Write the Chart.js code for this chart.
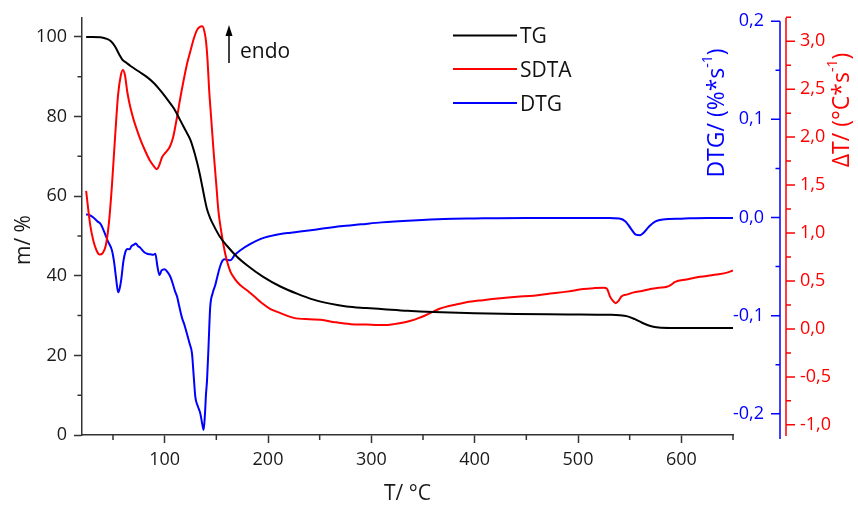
<!DOCTYPE html>
<html>
<head>
    <title>TG / SDTA / DTG</title>
    <script src="https://cdn.jsdelivr.net/npm/chart.js"></script>
    <style>
        body { margin: 0; background: #fff; }
        #wrap { width: 858px; height: 508px; }
    </style>
</head>
<body>
    <div id="wrap">
        <canvas id="thermo-chart" width="858" height="508"></canvas>
    </div>

    <script>
        // TG curve: temperature (°C) and mass (%)
        const tgTemp = [24, 30, 38, 44, 48, 52, 56, 59, 63, 67, 75, 83, 90, 96, 102, 109, 115, 120, 125, 129, 131.5, 134, 136.5, 139, 141, 144, 147.5, 153, 160, 170, 180, 195, 212, 228, 244, 260, 276, 295, 312, 335, 360, 400, 440, 490, 530, 540, 548, 555, 562, 570, 578, 590, 620, 650];
        const tgMass = [100, 100, 99.9, 99.5, 98.9, 97.6, 95.6, 94.3, 93.5, 92.7, 91.3, 89.9, 88.3, 86.5, 84.5, 82, 79.1, 76.6, 74.1, 70.8, 68.3, 65.5, 62.3, 59, 56.7, 54.5, 52.6, 50, 47.6, 44.8, 42.6, 39.8, 37.3, 35.5, 34, 33, 32.3, 31.9, 31.6, 31.2, 30.9, 30.6, 30.4, 30.3, 30.2, 30.1, 29.8, 29.1, 28.2, 27.4, 27.0, 26.9, 26.9, 26.9];

        // SDTA curve: temperature (°C) and ΔT (°C*s^-1)
        const sdtaTemp = [24, 26, 28, 31, 34, 37, 40, 43, 46, 49, 52, 55, 57.5, 59.5, 61.5, 64, 67, 70, 73, 77, 81, 86, 90, 92.5, 94.5, 97.5, 101, 105, 108, 112, 115, 118.5, 122, 125, 128, 131, 134, 136.5, 138.5, 140, 141.5, 143, 145, 147.5, 150, 152, 155, 157, 160, 163.5, 168, 173, 180, 186, 194, 202, 212, 225, 240, 251, 265, 280, 295, 312, 322, 330, 338, 345, 352, 360, 366, 372, 382, 392, 408, 425, 441, 457, 473, 489, 505, 515, 525, 528, 531, 534, 536.5, 539, 542, 548, 554, 562, 570, 578, 586, 590, 594, 605, 618, 634, 645, 650];
        const sdtaVal = [1.44, 1.25, 1.08, 0.92, 0.82, 0.775, 0.79, 0.87, 1.1, 1.5, 2.0, 2.45, 2.64, 2.70, 2.65, 2.46, 2.3, 2.18, 2.08, 1.96, 1.86, 1.75, 1.69, 1.665, 1.7, 1.79, 1.84, 1.9, 1.99, 2.21, 2.4, 2.6, 2.78, 2.9, 3.02, 3.11, 3.15, 3.155, 3.1, 3.0, 2.8, 2.5, 2.2, 1.83, 1.5, 1.23, 1.0, 0.87, 0.72, 0.6, 0.52, 0.458, 0.4, 0.345, 0.27, 0.21, 0.165, 0.115, 0.1, 0.095, 0.07, 0.05, 0.045, 0.04, 0.05, 0.065, 0.085, 0.11, 0.14, 0.18, 0.21, 0.23, 0.255, 0.278, 0.3, 0.32, 0.335, 0.347, 0.37, 0.389, 0.416, 0.425, 0.43, 0.42, 0.337, 0.29, 0.268, 0.29, 0.337, 0.36, 0.381, 0.395, 0.416, 0.43, 0.44, 0.46, 0.49, 0.515, 0.543, 0.567, 0.59, 0.61];

        // DTG curve: temperature (°C) and DTG (%*s^-1)
        const dtgTemp = [24, 28, 31, 35, 38, 42, 45, 49, 51, 53, 55, 56.5, 58, 60, 62, 64, 66, 68, 70, 72, 74, 76.5, 79, 81, 83, 86, 89, 91, 93, 95, 97, 100, 103, 105.5, 108, 110, 112, 114, 116.8, 119, 121.7, 124, 126.5, 128, 129.7, 132, 134.5, 136.3, 137.7, 139, 140, 141, 142.5, 144, 146.5, 149, 151.5, 154, 156, 157.7, 160.5, 163.5, 168, 173, 183, 193, 202, 212, 222, 231, 250, 270, 290, 310, 340, 370, 400, 450, 500, 530, 540, 546, 551, 556, 560, 564, 569, 575, 582, 600, 625, 650];
        const dtgVal = [0.0033, 0.002, 0.0, -0.004, -0.0067, -0.016, -0.024, -0.0336, -0.045, -0.062, -0.0762, -0.072, -0.063, -0.045, -0.035, -0.032, -0.0325, -0.029, -0.028, -0.0265, -0.029, -0.031, -0.034, -0.036, -0.037, -0.0375, -0.038, -0.037, -0.05, -0.0587, -0.054, -0.0527, -0.056, -0.0604, -0.068, -0.075, -0.0806, -0.09, -0.1024, -0.109, -0.119, -0.128, -0.139, -0.16, -0.183, -0.192, -0.1997, -0.21, -0.2165, -0.2, -0.18, -0.166, -0.13, -0.0923, -0.077, -0.0688, -0.058, -0.0487, -0.044, -0.0426, -0.0432, -0.0436, -0.038, -0.0336, -0.027, -0.0218, -0.019, -0.0168, -0.0155, -0.0144, -0.0118, -0.009, -0.007, -0.005, -0.003, -0.0015, -0.001, -0.0005, -0.0005, -0.0005, -0.001, -0.004, -0.011, -0.0175, -0.018, -0.015, -0.009, -0.004, -0.002, -0.0012, -0.0005, -0.0005];

        // ticks
        const tMajor = [100, 200, 300, 400, 500, 600];
        const tMinor = [50, 150, 250, 350, 450, 550, 650];
        const mMajor = [0, 20, 40, 60, 80, 100];
        const mMinor = [10, 30, 50, 70, 90];
        const dtgMajor = [0.2, 0.1, 0.0, -0.1, -0.2];
        const dtgMinor = [0.15, 0.05, -0.05, -0.15];
        const sdtaMajor = [3.0, 2.5, 2.0, 1.5, 1.0, 0.5, 0.0, -0.5, -1.0];
        const sdtaMinor = [3.25, 2.75, 2.25, 1.75, 1.25, 0.75, 0.25, -0.25, -0.75];

        const seriesNames = ['TG', 'SDTA', 'DTG'];
        const seriesColors = ['#000000', '#ff0000', '#0000ff'];

        const FONT = "'Open Sans', sans-serif";
        const AXIS = '#333333';

        function toPoints(xs, ys) {
            return xs.map((v, i) => ({ x: v, y: ys[i] }));
        }

        function comma(v, d) {
            return v.toFixed(d).replace('.', ',');
        }

        // rotated title with a "-1" superscript
        function drawRotTitle(ctx, cx, cy, pre, sup, post, color, size) {
            const big = size + 'px ' + FONT;
            const small = Math.round(size * 0.62) + 'px ' + FONT;
            ctx.save();
            ctx.translate(cx, cy);
            ctx.rotate(-Math.PI / 2);
            ctx.fillStyle = color;
            ctx.textBaseline = 'middle';
            ctx.textAlign = 'left';
            ctx.font = big;
            const w1 = ctx.measureText(pre).width;
            const w3 = ctx.measureText(post).width;
            ctx.font = small;
            const w2 = ctx.measureText(sup).width;
            let x0 = -(w1 + w2 + w3) / 2;
            ctx.font = big;
            ctx.fillText(pre, x0, 0);
            ctx.font = small;
            ctx.fillText(sup, x0 + w1, -size * 0.4);
            ctx.font = big;
            ctx.fillText(post, x0 + w1 + w2, 0);
            ctx.restore();
        }

        const extras = {
            id: 'extras',
            afterDraw(chart) {
                const ctx = chart.ctx;
                const { x, y, y2, y3 } = chart.scales;
                const area = chart.chartArea;
                ctx.save();
                ctx.lineCap = 'butt';

                // minor ticks, left and bottom
                ctx.strokeStyle = AXIS;
                ctx.lineWidth = 1.5;
                ctx.beginPath();
                mMinor.forEach(v => {
                    const py = y.getPixelForValue(v);
                    ctx.moveTo(area.left - 4.5, py);
                    ctx.lineTo(area.left, py);
                });
                tMinor.forEach(v => {
                    const px = x.getPixelForValue(v);
                    ctx.moveTo(px, area.bottom);
                    ctx.lineTo(px, area.bottom + 5);
                });
                ctx.stroke();

                // left title
                drawRotTitle(ctx, 24, 240, 'm/ %', '', '', '#1a1a1a', 21);

                // DTG axis (blue)
                const bx = area.right + 47;
                ctx.strokeStyle = seriesColors[2];
                ctx.lineWidth = 1.5;
                ctx.beginPath();
                ctx.moveTo(bx, y2.getPixelForValue(0.2));
                ctx.lineTo(bx, area.bottom + 4);
                dtgMajor.forEach(v => {
                    const py = y2.getPixelForValue(v);
                    ctx.moveTo(bx, py);
                    ctx.lineTo(bx - 9, py);
                });
                dtgMinor.forEach(v => {
                    const py = y2.getPixelForValue(v);
                    ctx.moveTo(bx, py);
                    ctx.lineTo(bx - 4.5, py);
                });
                ctx.stroke();
                ctx.fillStyle = seriesColors[2];
                ctx.font = '18px ' + FONT;
                ctx.textAlign = 'right';
                ctx.textBaseline = 'middle';
                dtgMajor.forEach(v => {
                    ctx.fillText(comma(v, 1), bx - 16, y2.getPixelForValue(v));
                });
                drawRotTitle(ctx, bx - 63, 113, 'DTG/ (%*s', '-1', ')', seriesColors[2], 23);

                // SDTA axis (red)
                const rx = area.right + 53;
                ctx.strokeStyle = seriesColors[1];
                ctx.beginPath();
                ctx.moveTo(rx, area.top);
                ctx.lineTo(rx, area.bottom + 1);
                sdtaMajor.forEach(v => {
                    const py = y3.getPixelForValue(v);
                    ctx.moveTo(rx, py);
                    ctx.lineTo(rx + 9, py);
                });
                sdtaMinor.forEach(v => {
                    const py = y3.getPixelForValue(v);
                    ctx.moveTo(rx, py);
                    ctx.lineTo(rx + 5, py);
                });
                ctx.stroke();
                ctx.fillStyle = seriesColors[1];
                ctx.textAlign = 'left';
                sdtaMajor.forEach(v => {
                    ctx.fillText(comma(v, 1), rx + 14, y3.getPixelForValue(v));
                });
                drawRotTitle(ctx, rx + 56, 110, 'ΔT/ (°C*s', '-1', ')', seriesColors[1], 23);

                // legend inside the plot
                const legY = [35.5, 69, 103];
                ctx.font = '21px ' + FONT;
                ctx.textBaseline = 'alphabetic';
                ctx.textAlign = 'left';
                seriesNames.forEach((name, i) => {
                    ctx.strokeStyle = seriesColors[i];
                    ctx.lineWidth = 2;
                    ctx.beginPath();
                    ctx.moveTo(453, legY[i]);
                    ctx.lineTo(517, legY[i]);
                    ctx.stroke();
                    ctx.fillStyle = '#111';
                    ctx.fillText(name, 520, legY[i] + 7.5);
                });

                // endo arrow
                ctx.strokeStyle = '#000';
                ctx.fillStyle = '#000';
                ctx.lineWidth = 1.5;
                ctx.beginPath();
                ctx.moveTo(229, 63);
                ctx.lineTo(229, 33);
                ctx.stroke();
                ctx.beginPath();
                ctx.moveTo(229, 25);
                ctx.lineTo(225.5, 36);
                ctx.lineTo(232.5, 36);
                ctx.closePath();
                ctx.fill();
                ctx.fillStyle = '#111';
                ctx.fillText('endo', 240, 57.5);

                ctx.restore();
            }
        };

        const ctx = document.getElementById('thermo-chart').getContext('2d');
        const thermoChart = new Chart(ctx, {
            type: 'line',
            data: {
                datasets: [
                    {
                        label: seriesNames[0],
                        data: toPoints(tgTemp, tgMass),
                        borderColor: seriesColors[0],
                        borderWidth: 2,
                        pointRadius: 0,
                        cubicInterpolationMode: 'monotone',
                        yAxisID: 'y'
                    },
                    {
                        label: seriesNames[1],
                        data: toPoints(sdtaTemp, sdtaVal),
                        borderColor: seriesColors[1],
                        borderWidth: 2,
                        pointRadius: 0,
                        cubicInterpolationMode: 'monotone',
                        yAxisID: 'y3'
                    },
                    {
                        label: seriesNames[2],
                        data: toPoints(dtgTemp, dtgVal),
                        borderColor: seriesColors[2],
                        borderWidth: 2,
                        pointRadius: 0,
                        cubicInterpolationMode: 'monotone',
                        yAxisID: 'y2'
                    }
                ]
            },
            options: {
                responsive: false,
                animation: false,
                events: [],
                layout: { padding: { top: 13, right: 125, bottom: 0, left: 0 } },
                plugins: {
                    legend: { display: false },
                    tooltip: { enabled: false }
                },
                scales: {
                    x: {
                        type: 'linear',
                        min: 20,
                        max: 650,
                        afterBuildTicks: s => { s.ticks = tMajor.map(v => ({ value: v })); },
                        afterFit: s => { s.height = 73; },
                        border: { color: AXIS, width: 1.5 },
                        grid: { drawOnChartArea: false, tickLength: 8, tickColor: AXIS, tickWidth: 1.5 },
                        ticks: { font: { family: FONT, size: 18 }, color: '#1a1a1a', padding: 6, maxRotation: 0 },
                        title: { display: true, text: 'T/ °C', font: { family: FONT, size: 21 }, color: '#1a1a1a', padding: { top: 0, bottom: 1 } }
                    },
                    y: {
                        position: 'left',
                        min: 0,
                        max: 104.8,
                        afterBuildTicks: s => { s.ticks = mMajor.map(v => ({ value: v })); },
                        afterFit: s => { s.width = 82; },
                        border: { color: AXIS, width: 1.5 },
                        grid: { drawOnChartArea: false, tickLength: 8, tickColor: AXIS, tickWidth: 1.5 },
                        ticks: { font: { family: FONT, size: 18 }, color: '#1a1a1a', padding: 7 }
                    },
                    y2: {
                        display: false,
                        position: 'right',
                        min: -0.2216,
                        max: 0.2034
                    },
                    y3: {
                        display: false,
                        position: 'right',
                        min: -1.106,
                        max: 3.244
                    }
                }
            },
            plugins: [extras]
        });
    </script>
</body>
</html>
